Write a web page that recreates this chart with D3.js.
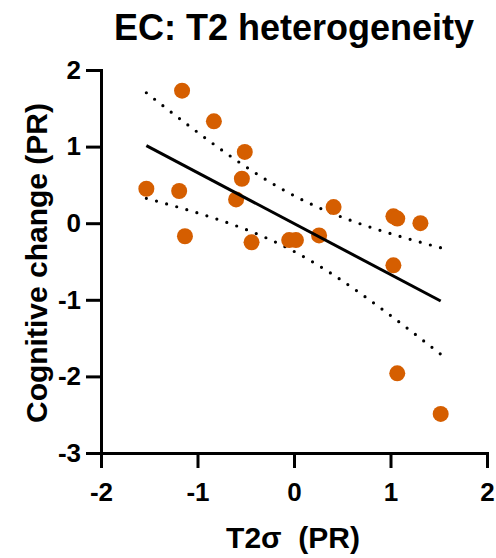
<!DOCTYPE html>
<html>
<head>
	<meta charset="utf-8">
	<script src="https://d3js.org/d3.v7.min.js"></script>
	<style>
		body { margin: 0; background: #fff; }
		text { font-family: "Liberation Sans", Arial, sans-serif; font-weight: bold; fill: #000; }
		.axis path, .axis line { stroke: #000; stroke-width: 3; }
	</style>
</head>
<body>
	<script>
		// data
		var t2sigma = [-1.53, -1.16, -1.19, -1.13, -0.83, -0.51, -0.54, -0.60, -0.44, -0.05, 0.02, 0.26, 0.41, 1.03, 1.07, 1.31, 1.03, 1.07, 1.52];
		var cogChange = [0.45, 1.73, 0.42, -0.17, 1.33, 0.93, 0.58, 0.31, -0.25, -0.22, -0.22, -0.16, 0.21, 0.09, 0.06, 0.0, -0.55, -1.96, -2.49];
		var xTicks = [-2, -1, 0, 1, 2];
		var yTicks = [-3, -2, -1, 0, 1, 2];

		var width = 496, height = 558;
		var margin = { top: 70, right: 9, bottom: 105, left: 101 };

		var svg = d3.select("body").append("svg")
			.attr("width", width)
			.attr("height", height);

		var x = d3.scaleLinear().domain([-2, 2]).range([margin.left, width - margin.right]);
		var y = d3.scaleLinear().domain([-3, 2]).range([height - margin.bottom, margin.top]);

		// linear fit with 95% confidence band
		var n = t2sigma.length;
		var mx = d3.mean(t2sigma), my = d3.mean(cogChange);
		var sxx = d3.sum(t2sigma, function(v) { return (v - mx) * (v - mx); });
		var sxy = d3.sum(t2sigma, function(v, i) { return (v - mx) * (cogChange[i] - my); });
		var slope = sxy / sxx, icept = my - slope * mx;
		var sse = d3.sum(t2sigma, function(v, i) { var r = cogChange[i] - (icept + slope * v); return r * r; });
		var se = Math.sqrt(sse / (n - 2));
		var tcrit = 2.110; // t(0.975, 17)
		var xMin = d3.min(t2sigma), xMax = d3.max(t2sigma);
		var xs = d3.range(0, 41).map(function(i) { return xMin + (xMax - xMin) * i / 40; });
		function half(v) { return tcrit * se * Math.sqrt(1 / n + (v - mx) * (v - mx) / sxx); }

		var line = d3.line().x(function(d) { return x(d[0]); }).y(function(d) { return y(d[1]); });

		[1, -1].forEach(function(s) {
			svg.append("path")
				.attr("d", line(xs.map(function(v) { return [v, icept + slope * v + s * half(v)]; })))
				.attr("fill", "none").attr("stroke", "#000").attr("stroke-width", 3.2)
				.attr("stroke-linecap", "round").attr("stroke-dasharray", "0,10.5");
		});

		// points
		svg.selectAll("circle")
			.data(t2sigma)
			.enter()
			.append("circle")
			.attr("cx", function(d) { return x(d); })
			.attr("cy", function(d, i) { return y(cogChange[i]); })
			.attr("r", 8)
			.attr("fill", "#D55E00");

		// fit line
		svg.append("path")
			.attr("d", line([[xMin, icept + slope * xMin], [xMax, icept + slope * xMax]]))
			.attr("fill", "none").attr("stroke", "#000").attr("stroke-width", 3);

		// axes
		var fmt = function(d) { return String(d); };
		var axisX = svg.append("g")
			.attr("class", "axis")
			.attr("transform", "translate(0," + y(-3) + ")")
			.call(d3.axisBottom(x).tickValues(xTicks).tickSize(15).tickSizeOuter(0).tickPadding(15).tickFormat(fmt));
		var axisY = svg.append("g")
			.attr("class", "axis")
			.attr("transform", "translate(" + x(-2) + ",0)")
			.call(d3.axisLeft(y).tickValues(yTicks).tickSize(15).tickSizeOuter(0).tickPadding(5).tickFormat(fmt));
		svg.selectAll(".axis text")
			.attr("font-family", null).attr("font-size", null)
			.style("font-size", "26px").attr("fill", "#000");
		svg.selectAll(".axis .domain").attr("stroke-linecap", "square");

		// titles
		svg.append("text")
			.text("EC: T2 heterogeneity")
			.attr("x", 294).attr("y", 40)
			.attr("text-anchor", "middle")
			.style("font-size", "36px");
		svg.append("text")
			.text("T2\u03c3  (PR)")
			.attr("x", 293).attr("y", 548)
			.attr("text-anchor", "middle")
			.style("white-space", "pre")
			.style("font-size", "30px");
		svg.append("text")
			.text("Cognitive change (PR)")
			.attr("transform", "translate(47,263) rotate(-90)")
			.attr("text-anchor", "middle")
			.style("font-size", "30px");
	</script>
</body>
</html>
